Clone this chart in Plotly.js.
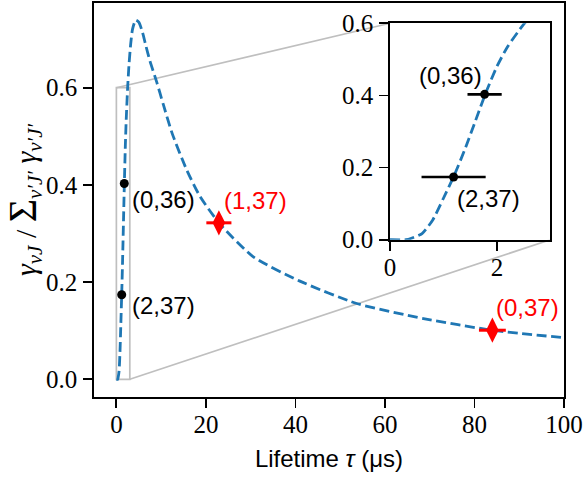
<!DOCTYPE html>
<html>
<head>
<meta charset="utf-8">
<script src="https://cdn.plot.ly/plotly-3.0.1.min.js"></script>
<style>html,body{margin:0;padding:0;background:#fff;}#chart{width:583px;height:479px;}</style>
</head>
<body>
<div id="chart"></div>
<script>
// ---- data ----
var tauCurve   = [0, 0.3, 0.4, 0.6, 0.8, 1.0, 1.2, 1.4, 1.6, 1.8, 2.0, 2.2, 2.5, 2.8, 3.2, 3.6, 4.3, 5.0, 5.8, 6.6, 7.5, 9.0, 10.5, 12.5, 15.7, 18.7, 23.0, 30.6, 41.0, 53.7, 68.6, 84.0, 100];
var ratioCurve = [0, 0.0, 0.004, 0.017, 0.055, 0.115, 0.178, 0.25, 0.33, 0.41, 0.48, 0.535, 0.597, 0.645, 0.69, 0.72, 0.739, 0.735, 0.715, 0.686, 0.655, 0.612, 0.565, 0.505, 0.431, 0.376, 0.321, 0.252, 0.202, 0.156, 0.125, 0.101, 0.0856];

var blackLabels = ["(0,36)", "(2,37)"];
var blackTau    = [1.77, 1.19];
var blackTauErr = [0.32, 0.60];
var blackRatio  = [0.403, 0.174];

var redLabels = ["(1,37)", "(0,37)"];
var redTau    = [22.9, 84.0];
var redTauErr = [2.8, 3.0];
var redRatio  = [0.322, 0.101];

var mainXTicks  = [0, 20, 40, 60, 80, 100];
var yTicks      = [0.0, 0.2, 0.4, 0.6];
var insetXTicks = [0, 2];

// ---- layout constants ----
var mainXRange = [-5, 100];
var mainYRange = [-0.0364, 0.7743];
var insetXRange = [0, 3];
var insetYRange = [0, 0.6];
var insetXDom = [0.6298, 0.9709];
var insetYDom = [0.3992, 0.9485];

var blue = '#1f77b4';
var gray = '#bfbfbf';
var serif = 'Liberation Serif';
var sans = 'Liberation Sans';

function curveTrace(xa, ya) {
  return {x: tauCurve, y: ratioCurve, xaxis: xa, yaxis: ya, mode: 'lines',
    line: {color: blue, width: 2.8, dash: '10px,4.5px', shape: 'spline', smoothing: 0.6},
    hoverinfo: 'skip', showlegend: false};
}
function blackTrace(xa, ya) {
  return {x: blackTau, y: blackRatio, xaxis: xa, yaxis: ya, mode: 'markers',
    marker: {color: 'black', size: 9, symbol: 'circle'},
    error_x: {type: 'data', array: blackTauErr, visible: xa === 'x2', color: 'black', thickness: 2.6, width: 0},
    showlegend: false, cliponaxis: false};
}
var traces = [
  curveTrace('x', 'y'),
  blackTrace('x', 'y'),
  {x: redTau, y: redRatio, xaxis: 'x', yaxis: 'y', mode: 'markers',
   marker: {color: 'red', size: 18, symbol: 'diamond-tall'},
   error_x: {type: 'data', array: redTauErr, visible: true, color: 'red', thickness: 3, width: 0},
   showlegend: false},
  curveTrace('x2', 'y2'),
  blackTrace('x2', 'y2')
];

function px(v, r, d) { return d[0] + (v - r[0]) / (r[1] - r[0]) * (d[1] - d[0]); }

var shapes = [
  {type: 'rect', xref: 'x', yref: 'y', x0: insetXRange[0], x1: insetXRange[1], y0: insetYRange[0], y1: insetYRange[1],
   line: {color: gray, width: 1.7}, layer: 'below'},
  {type: 'line', xref: 'paper', yref: 'paper',
   x0: px(insetXRange[0], mainXRange, [0, 1]), y0: px(insetYRange[1], mainYRange, [0, 1]),
   x1: insetXDom[0], y1: insetYDom[1], line: {color: gray, width: 1.7}, layer: 'below'},
  {type: 'line', xref: 'paper', yref: 'paper',
   x0: px(insetXRange[1], mainXRange, [0, 1]), y0: px(insetYRange[0], mainYRange, [0, 1]),
   x1: insetXDom[1], y1: insetYDom[0], line: {color: gray, width: 1.7}, layer: 'below'}
];

var lblFont = {family: sans, size: 24, color: 'black'};
var redFont = {family: sans, size: 24, color: 'red'};
var annotations = [
  {xref: 'x', yref: 'y', x: blackTau[0], y: blackRatio[0], text: blackLabels[0], showarrow: false, xanchor: 'left', yanchor: 'middle', xshift: 6, yshift: -16, font: lblFont},
  {xref: 'x', yref: 'y', x: blackTau[1], y: blackRatio[1], text: blackLabels[1], showarrow: false, xanchor: 'left', yanchor: 'middle', xshift: 8, yshift: -11, font: lblFont},
  {xref: 'x', yref: 'y', x: redTau[0], y: redRatio[0], text: redLabels[0], showarrow: false, xanchor: 'left', yanchor: 'middle', xshift: 3, yshift: 22, font: redFont},
  {xref: 'x', yref: 'y', x: redTau[1], y: redRatio[1], text: redLabels[1], showarrow: false, xanchor: 'left', yanchor: 'middle', xshift: 2, yshift: 23, font: redFont},
  {xref: 'x2', yref: 'y2', x: blackTau[0], y: blackRatio[0], text: blackLabels[0], showarrow: false, xanchor: 'right', yanchor: 'middle', xshift: -1, yshift: 19, font: lblFont},
  {xref: 'x2', yref: 'y2', x: blackTau[1], y: blackRatio[1], text: blackLabels[1], showarrow: false, xanchor: 'left', yanchor: 'middle', xshift: 1, yshift: -22, font: lblFont}
];

function axBase() {
  return {showgrid: false, zeroline: false, showline: true, mirror: true, linecolor: 'black', linewidth: 1.8,
    ticks: 'outside', ticklen: 9, tickwidth: 1.8, tickcolor: 'black', ticklabelstandoff: 1, ticklabeloverflow: 'allow',
    tickfont: {family: serif, size: 25, color: 'black'}};
}

var layout = {
  width: 583, height: 479,
  margin: {l: 94, r: 19, t: 3, b: 82, pad: 0},
  font: {family: serif},
  paper_bgcolor: 'white', plot_bgcolor: 'white',
  showlegend: false,
  xaxis: Object.assign(axBase(), {range: mainXRange, domain: [0, 1], tickvals: mainXTicks, ticktext: mainXTicks.map(String),
    ticklabelstandoff: -5,
    title: {text: 'Lifetime <i>τ</i> (μs)', font: {family: sans, size: 24, color: 'black'}, standoff: 13}}),
  yaxis: Object.assign(axBase(), {range: mainYRange, domain: [0, 1], tickvals: yTicks, ticktext: yTicks.map(function(v){return v.toFixed(1);}),
    title: {text: "<i>γ</i><sub><i>νJ</i></sub> / <span style='font-size:40px'>Σ</span><sub><i>ν′J′</i></sub> <i>γ</i><sub><i>ν′J′</i></sub>",
      font: {family: serif, size: 30, color: 'black'}, standoff: 4}}),
  xaxis2: Object.assign(axBase(), {range: insetXRange, domain: insetXDom, anchor: 'y2', tickvals: insetXTicks, ticktext: insetXTicks.map(String),
    ticklabelstandoff: -5}),
  yaxis2: Object.assign(axBase(), {range: insetYRange, domain: insetYDom, anchor: 'x2', tickvals: yTicks, ticktext: yTicks.map(function(v){return v.toFixed(1);})}),
  shapes: shapes,
  annotations: annotations
};

Plotly.newPlot('chart', traces, layout, {staticPlot: true, displayModeBar: false});
</script>
</body>
</html>
